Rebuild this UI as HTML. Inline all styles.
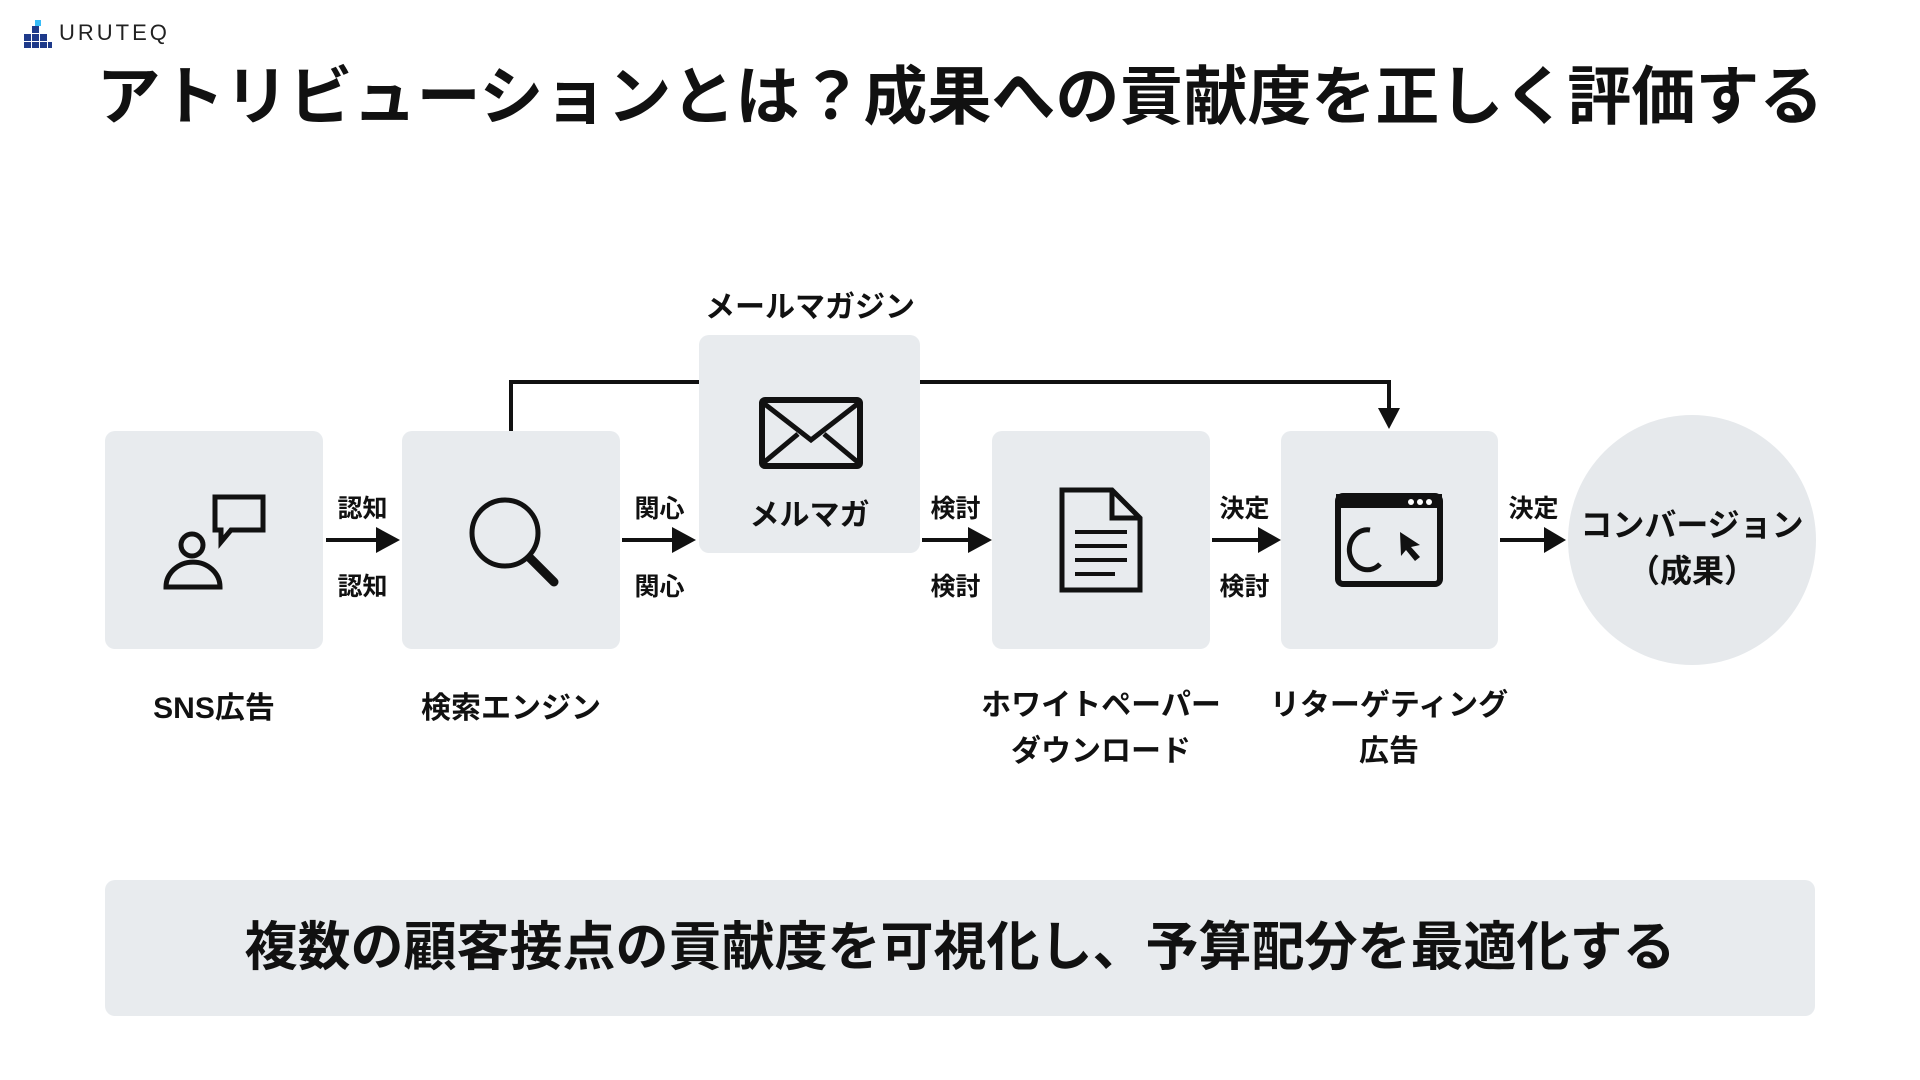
<!DOCTYPE html>
<html><head><meta charset="utf-8"><style>
body{margin:0;width:1920px;height:1080px;background:#fff;position:relative;overflow:hidden;font-family:"Liberation Sans","Noto Sans CJK JP",sans-serif;color:#111}
.t{position:absolute;font-weight:bold;white-space:nowrap;text-align:center}
</style></head><body>
<svg width="1920" height="1080" style="position:absolute;left:0;top:0">
<rect x="24" y="34" width="7" height="7" fill="#1e3a8a"/><rect x="32" y="34" width="7" height="7" fill="#1e3a8a"/><rect x="40" y="34" width="7" height="7" fill="#1e3a8a"/>
<rect x="24" y="42" width="7" height="6" fill="#1e3a8a"/><rect x="32" y="42" width="7" height="6" fill="#1e3a8a"/><rect x="40" y="42" width="7" height="6" fill="#1e3a8a"/><rect x="48" y="42" width="4" height="6" fill="#1e3a8a"/>
<rect x="32" y="26" width="7" height="7" fill="#1e3a8a"/><rect x="35" y="20" width="6" height="6" fill="#38bdf8"/>
<rect x="105" y="431" width="218" height="218" rx="10" fill="#e8ebee"/>
<rect x="402" y="431" width="218" height="218" rx="10" fill="#e8ebee"/>
<rect x="699" y="335" width="221" height="218" rx="10" fill="#e8ebee"/>
<rect x="992" y="431" width="218" height="218" rx="10" fill="#e8ebee"/>
<rect x="1281" y="431" width="217" height="218" rx="10" fill="#e8ebee"/>
<ellipse cx="1692" cy="540" rx="124" ry="125" fill="#e6e9ec"/>
<rect x="105" y="880" width="1710" height="136" rx="10" fill="#e8ebee"/>
<polyline points="511,431 511,382 699,382" fill="none" stroke="#111" stroke-width="4"/>
<polyline points="920,382 1389,382 1389,410" fill="none" stroke="#111" stroke-width="4"/>
<polygon points="1378,408 1400,408 1389,429" fill="#111"/>
<g stroke="#111" stroke-width="4">
<line x1="326" y1="540" x2="380" y2="540"/><line x1="622" y1="540" x2="676" y2="540"/>
<line x1="922" y1="540" x2="972" y2="540"/><line x1="1212" y1="540" x2="1262" y2="540"/>
<line x1="1500" y1="540" x2="1548" y2="540"/></g>
<g fill="#111">
<polygon points="376,527 400,540 376,553"/><polygon points="672,527 696,540 672,553"/>
<polygon points="968,527 992,540 968,553"/><polygon points="1258,527 1281,540 1258,553"/>
<polygon points="1544,527 1566,540 1544,553"/></g>
<g fill="none" stroke="#111" stroke-width="5">
<circle cx="192" cy="545" r="11"/><path d="M166,587 a26,24 0 0 1 54,0 z"/>
<path d="M215,497 h48 v33 h-32 l-10,12 v-12 h-6 z"/>
<circle cx="505" cy="533" r="33"/><line x1="530" y1="558" x2="554" y2="582" stroke-width="9" stroke-linecap="round"/>
<rect x="762" y="400" width="98" height="66" rx="3" stroke-width="6"/><path d="M762,402 l49,38 l49,-38 M762,464 l36,-30 M860,464 l-36,-30" stroke-width="5"/>
<path d="M1062,490 h50 l28,28 v72 h-78 z M1112,490 v28 h28" stroke-width="5"/>
<path d="M1075,532 h52 M1075,546 h52 M1075,560 h52 M1075,574 h40" stroke-width="4"/>
<rect x="1338" y="496" width="102" height="88" rx="5" stroke-width="6"/>
<path d="M1370,530 a18,20 0 1 0 10,34" stroke-width="5"/></g>
<rect x="1336" y="494" width="106" height="14" fill="#111"/>
<circle cx="1411" cy="502" r="3" fill="#fff"/><circle cx="1420" cy="502" r="3" fill="#fff"/><circle cx="1429" cy="502" r="3" fill="#fff"/>
<polygon points="1400,532 1420,545 1411,547 1420,557 1415,561 1406,550 1401,556" fill="#111"/>
</svg>
<div class="t" style="left:59px;top:20px;font-size:22px;letter-spacing:3px;font-weight:normal;color:#222">URUTEQ</div>
<div class="t" style="left:0;width:1920px;top:59px;font-size:64px;line-height:76px">アトリビューションとは？成果への貢献度を正しく評価する</div>
<div class="t" style="left:660px;width:300px;top:282px;font-size:30px">メールマガジン</div>
<div class="t" style="left:699px;width:221px;top:490px;font-size:30px">メルマガ</div>
<div class="t" style="left:325px;width:75px;top:489px;font-size:25px">認知</div>
<div class="t" style="left:325px;width:75px;top:567px;font-size:25px">認知</div>
<div class="t" style="left:622px;width:75px;top:489px;font-size:25px">関心</div>
<div class="t" style="left:622px;width:75px;top:567px;font-size:25px">関心</div>
<div class="t" style="left:918px;width:75px;top:489px;font-size:25px">検討</div>
<div class="t" style="left:918px;width:75px;top:567px;font-size:25px">検討</div>
<div class="t" style="left:1207px;width:75px;top:489px;font-size:25px">決定</div>
<div class="t" style="left:1207px;width:75px;top:567px;font-size:25px">検討</div>
<div class="t" style="left:1496px;width:75px;top:489px;font-size:25px">決定</div>
<div class="t" style="left:1568px;width:248px;top:502px;font-size:32px;line-height:46px">コンバージョン<br>（成果）</div>
<div class="t" style="left:64px;width:300px;top:683px;font-size:30px">SNS広告</div>
<div class="t" style="left:361px;width:300px;top:683px;font-size:30px">検索エンジン</div>
<div class="t" style="left:931px;width:340px;top:683px;font-size:30px;line-height:46px">ホワイトペーパー<br>ダウンロード</div>
<div class="t" style="left:1219px;width:340px;top:683px;font-size:30px;line-height:46px">リターゲティング<br>広告</div>
<div class="t" style="left:105px;width:1710px;top:916px;font-size:53px;line-height:64px">複数の顧客接点の貢献度を可視化し、予算配分を最適化する</div>
</body></html>
